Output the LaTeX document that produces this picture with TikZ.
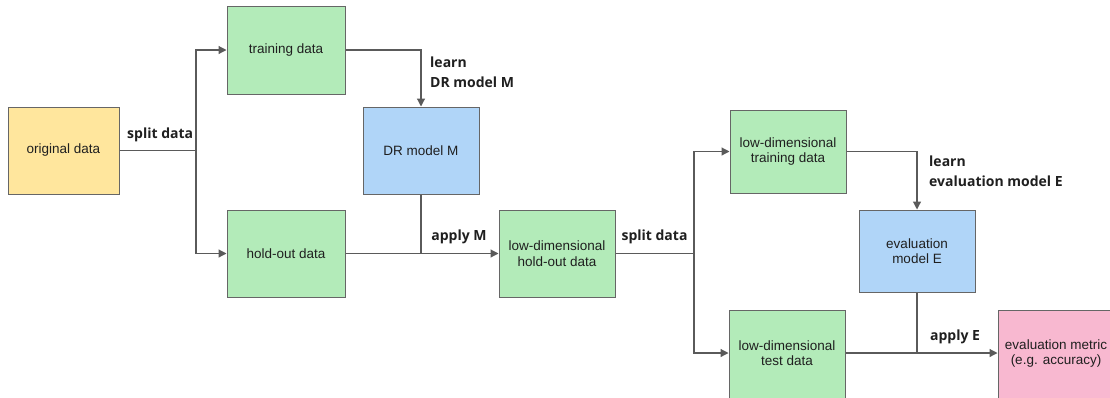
\documentclass[tikz,border=0pt]{standalone}
\usepackage{fontspec}
\setmainfont{Liberation Sans}
\newfontfamily\lblfont{Open Sans}
\usetikzlibrary{arrows.meta}
\definecolor{cyellow}{HTML}{FFE69D}
\definecolor{cgreen}{HTML}{B3EBB9}
\definecolor{cblue}{HTML}{B0D5F8}
\definecolor{cpink}{HTML}{F8B8D0}
\definecolor{cborder}{HTML}{666666}
\definecolor{cline}{HTML}{5A5A5A}
\definecolor{ctext}{HTML}{1F1F1F}
\tikzset{
  box/.style={draw=cborder, line width=1pt, minimum width=116pt, minimum height=87pt,
    inner sep=0pt, align=center, text=ctext, font=\fontsize{13.5}{15.5}\selectfont},
  conn/.style={draw=cline, line width=1.2pt},
  arr/.style={conn, -{Triangle[length=8pt,width=8pt]}},
  lbl/.style={inner sep=0pt, align=left, text=ctext, font=\lblfont\bfseries\fontsize{14}{20}\selectfont},
}
\begin{document}
\begin{tikzpicture}[x=1pt,y=-1pt]
\useasboundingbox (0,0) rectangle (1110,397);
\clip (0,0) rectangle (1110,397);
\node[box, fill=cyellow, minimum width=111pt] (orig) at (63.5,150.5) {original data};
\node[box, fill=cgreen, minimum width=118pt, minimum height=88pt] (train) at (286,50) {training data};
\node[box, fill=cgreen, minimum width=118pt] (hold) at (286,253.5) {hold-out data};
\node[box, fill=cblue] (dr) at (421,150.5) {DR model M};
\node[box, fill=cgreen] (ldhold) at (557,253.5) {low-dimensional\\hold-out data};
\node[box, fill=cgreen, minimum height=83pt] (ldtrain) at (788,151.5) {low-dimensional\\training data};
\node[box, fill=cblue, minimum height=82pt] (evalm) at (917,251) {evaluation\\model E};
\node[box, fill=cgreen, minimum height=94pt] (ldtest) at (787,357) {};
\node[box, fill=cpink, minimum height=94pt] (metric) at (1056,357) {};
\node[text=ctext, align=center, font=\fontsize{13.5}{15.5}\selectfont, inner sep=0pt] (ldtestt) at (787,353) {low-dimensional\\test data};
\node[text=ctext, align=center, font=\fontsize{13.5}{15.5}\selectfont, inner sep=0pt] (metrict) at (1056,353.5) {evaluation metric\\(e.g. accuracy)};

\coordinate (s1) at (196,150.5);
\coordinate (j1) at (421,253.5);
\coordinate (s2) at (694,253.5);
\coordinate (j2) at (917,353);
\coordinate (tin) at (ldtest.west |- ldtestt);
\coordinate (tout) at (ldtest.east |- ldtestt);
\coordinate (min) at (metric.west |- ldtestt);

\draw[conn] (orig.east) -- (s1);
\draw[arr] (s1) |- (train.west);
\draw[arr] (s1) |- (hold.west);
\draw[arr] (train.east) -| (dr.north);
\draw[arr] (hold.east) -- (ldhold.west);
\draw[conn] (dr.south) -- (j1);
\draw[conn] (ldhold.east) -- (s2);
\draw[arr] (s2) |- (ldtrain.west);
\draw[arr] (s2) |- (tin);
\draw[arr] (ldtrain.east) -| (evalm.north);
\draw[arr] (tout) -- (min);
\draw[conn] (evalm.south) -- (j2);

\node[lbl, anchor=west] (l1) at (127,135) {split data};
\node[lbl, anchor=north west] (l2) at (430,57) {learn\\DR model M};
\node[lbl] (l3) at (459,237) {apply M};
\node[lbl] (l4) at (654.5,237) {split data};
\node[lbl, anchor=north west] (l5) at (929,156) {learn\\evaluation model E};
\node[lbl] (l6) at (955,337) {apply E};
\end{tikzpicture}
\end{document}
